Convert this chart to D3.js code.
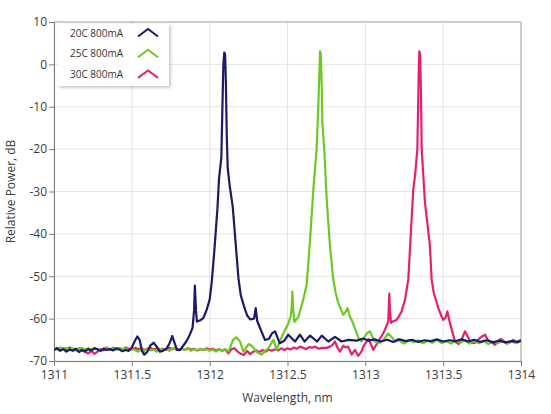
<!DOCTYPE html>
<html>
<head>
<meta charset="utf-8">
<script src="https://cdn.jsdelivr.net/npm/d3@7"></script>
<style>
  html, body { margin: 0; padding: 0; background: #fff; }
  svg { display: block; font-family: "Segoe UI", "Open Sans", "Noto Sans", sans-serif; }
</style>
</head>
<body>
<div id="chart"></div>
<script>
// ---------------- DATA ----------------
const seriesNames = ["20C 800mA", "25C 800mA", "30C 800mA"];
const xTicks = [1311, 1311.5, 1312, 1312.5, 1313, 1313.5, 1314];
const xTickLabels = ["1311", "1311.5", "1312", "1312.5", "1313", "1313.5", "1314"];
const yTicks = [10, 0, -10, -20, -30, -40, -50, -60, -70];
const yTickLabels = ["10", "0", "-10", "-20", "-30", "-40", "-50", "-60", "-70"];

const wl20 = [1311.00,1311.02,1311.04,1311.06,1311.08,1311.10,1311.12,1311.14,1311.16,1311.18,1311.20,1311.22,1311.24,1311.26,1311.28,1311.30,1311.32,1311.34,1311.36,1311.38,1311.40,1311.42,1311.44,1311.46,1311.48,1311.50,1311.52,1311.535,1311.55,1311.565,1311.58,1311.60,1311.62,1311.64,1311.66,1311.68,1311.70,1311.72,1311.74,1311.76,1311.775,1311.79,1311.81,1311.83,1311.85,1311.87,1311.89,1311.90,1311.905,1311.912,1311.918,1311.94,1311.96,1311.98,1312.00,1312.013,1312.03,1312.05,1312.06,1312.066,1312.075,1312.082,1312.088,1312.094,1312.099,1312.104,1312.110,1312.116,1312.13,1312.148,1312.16,1312.173,1312.185,1312.20,1312.22,1312.24,1312.26,1312.285,1312.296,1312.305,1312.33,1312.355,1312.38,1312.40,1312.42,1312.45,1312.48,1312.505,1312.548,1312.58,1312.61,1312.645,1312.69,1312.72,1312.762,1312.805,1312.848,1312.89,1312.945,1312.987,1313.02,1313.06,1313.10,1313.14,1313.18,1313.22,1313.26,1313.30,1313.34,1313.38,1313.42,1313.46,1313.50,1313.54,1313.58,1313.62,1313.66,1313.70,1313.74,1313.78,1313.82,1313.86,1313.90,1313.94,1313.98,1314.00];
const db20 = [-67.4,-67.0,-67.6,-67.2,-67.8,-67.3,-67.6,-67.1,-67.9,-67.4,-67.7,-67.2,-67.5,-67.0,-67.3,-67.6,-67.1,-67.4,-67.2,-67.5,-67.0,-67.3,-67.7,-67.4,-67.6,-66.8,-65.2,-64.2,-65.0,-67.6,-68.5,-67.8,-66.3,-65.7,-66.6,-67.8,-67.6,-67.2,-66.0,-64.1,-65.8,-67.4,-67.4,-66.4,-65.4,-64.0,-62.2,-58.0,-52.2,-58.0,-60.7,-60.4,-59.8,-58.0,-55.5,-51.5,-44,-34,-27,-25,-22,-10,0,2.8,2.4,-4,-17,-24.5,-29,-33.5,-39,-45,-50.5,-54.5,-57.0,-59.2,-60.2,-60.0,-57.5,-60.5,-62.8,-65.0,-64.8,-63.5,-63.0,-65.8,-65.2,-63.8,-65.4,-63.8,-65.4,-64.0,-65.4,-64.0,-65.4,-64.3,-65.4,-65.0,-65.2,-64.7,-65.2,-64.9,-65.4,-65.0,-65.5,-64.9,-65.3,-65.0,-65.5,-65.1,-65.3,-64.9,-65.4,-65.1,-65.3,-64.9,-65.4,-65.0,-65.5,-65.1,-65.6,-65.2,-65.6,-65.3,-65.5,-65.2];

const wl25 = [1311.00,1311.02,1311.04,1311.06,1311.08,1311.10,1311.12,1311.14,1311.16,1311.18,1311.20,1311.22,1311.24,1311.26,1311.28,1311.30,1311.32,1311.34,1311.36,1311.38,1311.40,1311.42,1311.44,1311.46,1311.48,1311.50,1311.52,1311.54,1311.56,1311.58,1311.60,1311.62,1311.64,1311.66,1311.68,1311.70,1311.72,1311.74,1311.76,1311.78,1311.80,1311.82,1311.84,1311.86,1311.88,1311.90,1311.92,1311.94,1311.96,1311.98,1312.00,1312.02,1312.04,1312.06,1312.08,1312.10,1312.12,1312.135,1312.15,1312.17,1312.195,1312.216,1312.235,1312.25,1312.27,1312.30,1312.334,1312.355,1312.376,1312.41,1312.43,1312.45,1312.473,1312.505,1312.52,1312.527,1312.531,1312.537,1312.544,1312.57,1312.60,1312.623,1312.645,1312.666,1312.687,1312.698,1312.704,1312.709,1312.714,1312.72,1312.724,1312.737,1312.752,1312.773,1312.794,1312.81,1312.826,1312.858,1312.870,1312.886,1312.90,1312.912,1312.935,1312.955,1312.976,1313.009,1313.03,1313.06,1313.09,1313.12,1313.147,1313.17,1313.19,1313.21,1313.23,1313.25,1313.28,1313.31,1313.34,1313.37,1313.40,1313.43,1313.46,1313.49,1313.52,1313.55,1313.58,1313.61,1313.64,1313.67,1313.70,1313.73,1313.76,1313.79,1313.82,1313.85,1313.88,1313.91,1313.94,1313.97,1314.00];
const db25 = [-67.0,-67.3,-66.8,-67.2,-66.9,-67.4,-67.0,-67.5,-67.1,-66.9,-67.3,-67.0,-67.4,-66.9,-67.2,-67.5,-67.0,-66.8,-67.3,-67.1,-67.4,-66.9,-67.2,-67.0,-67.5,-67.1,-67.4,-67.8,-67.2,-67.6,-67.0,-67.5,-67.3,-67.8,-67.1,-67.4,-67.2,-67.6,-67.0,-67.3,-67.5,-67.1,-67.4,-67.0,-67.6,-67.2,-67.5,-67.1,-67.4,-67.2,-67.6,-67.3,-67.8,-67.2,-67.5,-67.2,-67.8,-66.5,-65.0,-64.4,-65.4,-67.8,-66.8,-66.0,-66.4,-67.8,-68.5,-67.6,-67.0,-65.0,-67.4,-65.4,-63.5,-61.2,-59.5,-57.3,-53.6,-58,-60.8,-59.6,-55.7,-52.0,-41.4,-29.5,-20.0,-9.8,-3,3.1,2.5,-5,-13.8,-20.6,-32,-42.9,-50.8,-54,-56.3,-59.1,-58.6,-57.5,-59.5,-60.3,-62.5,-64.5,-65.4,-63.5,-63.0,-65.4,-65.8,-64.9,-63.5,-64.4,-65.2,-64.8,-65.5,-65.9,-65.0,-65.6,-65.1,-65.8,-65.2,-65.7,-65.0,-65.8,-65.3,-65.9,-65.2,-65.7,-65.1,-65.9,-65.3,-65.8,-65.2,-66.0,-65.4,-65.8,-65.3,-65.9,-65.4,-65.8,-65.3];

const wl30 = [1311.00,1311.02,1311.04,1311.06,1311.08,1311.10,1311.12,1311.14,1311.16,1311.18,1311.20,1311.22,1311.24,1311.26,1311.28,1311.30,1311.32,1311.34,1311.36,1311.38,1311.40,1311.42,1311.44,1311.46,1311.48,1311.50,1311.52,1311.54,1311.56,1311.58,1311.60,1311.62,1311.64,1311.66,1311.68,1311.70,1311.72,1311.74,1311.76,1311.78,1311.80,1311.82,1311.84,1311.86,1311.88,1311.90,1311.92,1311.94,1311.96,1311.98,1312.00,1312.02,1312.04,1312.06,1312.08,1312.10,1312.12,1312.14,1312.16,1312.18,1312.20,1312.22,1312.24,1312.26,1312.28,1312.30,1312.32,1312.34,1312.36,1312.38,1312.40,1312.42,1312.44,1312.46,1312.48,1312.50,1312.52,1312.54,1312.56,1312.58,1312.60,1312.62,1312.64,1312.66,1312.677,1312.70,1312.72,1312.75,1312.773,1312.79,1312.805,1312.82,1312.837,1312.858,1312.875,1312.89,1312.912,1312.933,1312.955,1312.975,1312.987,1313.005,1313.02,1313.04,1313.05,1313.07,1313.094,1313.11,1313.126,1313.147,1313.151,1313.154,1313.158,1313.165,1313.18,1313.20,1313.215,1313.233,1313.255,1313.266,1313.276,1313.29,1313.308,1313.32,1313.334,1313.34,1313.344,1313.347,1313.352,1313.357,1313.362,1313.383,1313.40,1313.415,1313.426,1313.44,1313.469,1313.49,1313.50,1313.515,1313.527,1313.54,1313.555,1313.576,1313.60,1313.62,1313.64,1313.655,1313.672,1313.69,1313.71,1313.73,1313.75,1313.769,1313.785,1313.80,1313.82,1313.833,1313.85,1313.87,1313.89,1313.91,1313.93,1313.95,1313.97,1314.00];
const db30 = [-67.2,-66.9,-67.4,-67.0,-67.3,-66.8,-67.2,-67.5,-67.0,-67.4,-67.9,-68.2,-67.6,-68.3,-67.8,-67.2,-67.5,-67.0,-67.3,-66.9,-67.2,-67.0,-67.4,-66.8,-67.1,-67.3,-66.9,-67.2,-67.0,-67.4,-67.1,-66.9,-67.3,-67.0,-67.4,-67.1,-67.3,-66.9,-67.2,-67.0,-67.3,-67.1,-67.4,-67.0,-67.3,-67.1,-67.5,-67.2,-67.4,-67.0,-67.3,-67.1,-67.5,-67.2,-67.6,-67.3,-68.2,-67.2,-67.0,-67.8,-68.3,-68.6,-67.6,-68.4,-67.8,-67.5,-67.9,-67.4,-67.8,-67.3,-67.6,-67.2,-67.5,-67.0,-67.4,-67.0,-67.3,-66.8,-67.1,-66.6,-66.9,-67.2,-66.7,-66.9,-66.6,-67.1,-66.9,-66.9,-66.6,-66.2,-65.4,-66.8,-67.8,-66.4,-66.8,-66.6,-68.5,-67.4,-68.8,-67.8,-66.6,-65.6,-64.8,-66.4,-67.4,-66.2,-64.7,-63.8,-62.6,-60.7,-57,-54.1,-58,-61,-60.6,-60.3,-59.5,-58.3,-55.5,-53,-50.8,-41.4,-29.5,-26,-20,-8,0,3.1,2.5,-6,-20,-32.6,-38,-42.9,-50.8,-54,-57.5,-59.5,-60.3,-59.8,-58.3,-60.5,-62.6,-65.4,-66.0,-64.8,-63.0,-64.0,-65.4,-65.8,-65.6,-64.8,-64.2,-63.8,-64.9,-65.4,-65.8,-66.2,-65.4,-64.8,-65.3,-65.9,-65.5,-65.0,-65.6,-65.0];

const colors = ["#1b1a6b", "#6cc924", "#e5206e"];

// ---------------- CHART ----------------
const W = 551, H = 414;
const margin = { left: 54, right: 30, top: 22, bottom: 53 };
const svg = d3.select("#chart").append("svg").attr("width", W).attr("height", H);

const x = d3.scaleLinear().domain([1311, 1314]).range([margin.left, W - margin.right]);
const y = d3.scaleLinear().domain([-70, 10]).range([H - margin.bottom, margin.top]);

// gridlines
svg.append("g").selectAll("line.vg").data(xTicks).join("line")
  .attr("x1", d => x(d)).attr("x2", d => x(d))
  .attr("y1", y(10)).attr("y2", y(-70))
  .attr("stroke", "#e4e4e4").attr("stroke-width", 1);
svg.append("g").selectAll("line.hg").data(yTicks).join("line")
  .attr("y1", d => y(d)).attr("y2", d => y(d))
  .attr("x1", x(1311)).attr("x2", x(1314))
  .attr("stroke", "#e4e4e4").attr("stroke-width", 1);

// frame top/right
svg.append("line").attr("x1", x(1311)).attr("x2", x(1314)).attr("y1", y(10)).attr("y2", y(10))
  .attr("stroke", "#a8a8a8");
svg.append("line").attr("x1", x(1314)).attr("x2", x(1314)).attr("y1", y(10)).attr("y2", y(-70))
  .attr("stroke", "#a8a8a8");

// axes
const xAxis = d3.axisBottom(x).tickValues(xTicks).tickFormat((d, i) => xTickLabels[i]).tickSizeOuter(0).tickSize(5).tickPadding(4);
const yAxis = d3.axisLeft(y).tickValues(yTicks).tickFormat((d, i) => yTickLabels[i]).tickSizeOuter(0).tickSize(5).tickPadding(2);

const gx = svg.append("g").attr("transform", `translate(0,${y(-70)})`).call(xAxis);
const gy = svg.append("g").attr("transform", `translate(${x(1311)},0)`).call(yAxis);
[gx, gy].forEach(g => {
  g.select(".domain").attr("stroke", "#7a7a7a");
  g.selectAll(".tick line").attr("stroke", "#7a7a7a");
  g.selectAll(".tick text").attr("fill", "#3a3a3a").style("font-size", "12px")
    .style("font-family", '"Segoe UI", "Open Sans", "Noto Sans", sans-serif');
});

// axis titles
svg.append("text").attr("x", (x(1311) + x(1314)) / 2).attr("y", 402)
  .attr("text-anchor", "middle").attr("fill", "#3a3a3a").style("font-size", "12px")
  .text("Wavelength, nm");
svg.append("text").attr("transform", `translate(15,${(y(10) + y(-70)) / 2}) rotate(-90)`)
  .attr("text-anchor", "middle").attr("fill", "#3a3a3a").style("font-size", "12px")
  .text("Relative Power, dB");

// lines
const clip = svg.append("clipPath").attr("id", "plotclip").append("rect")
  .attr("x", x(1311)).attr("y", y(10)).attr("width", x(1314) - x(1311)).attr("height", y(-70) - y(10));
const line = d3.line().x(d => x(d[0])).y(d => y(d[1])).curve(d3.curveLinear);
const series = [
  d3.zip(wl30, db30),
  d3.zip(wl25, db25),
  d3.zip(wl20, db20)
];
const seriesColors = [colors[2], colors[1], colors[0]];
svg.append("g").attr("clip-path", "url(#plotclip)").selectAll("path").data(series).join("path")
  .attr("d", line).attr("fill", "none")
  .attr("stroke", (d, i) => seriesColors[i]).attr("stroke-width", 2.2)
  .attr("stroke-linejoin", "round");

// legend
const defs = svg.append("defs");
const f = defs.append("filter").attr("id", "shadow").attr("x", "-10%").attr("y", "-10%").attr("width", "130%").attr("height", "130%");
f.append("feDropShadow").attr("dx", 1.5).attr("dy", 1.5).attr("stdDeviation", 1.5).attr("flood-color", "#000").attr("flood-opacity", 0.25);

const lg = svg.append("g").attr("transform", "translate(58,24)");
lg.append("rect").attr("width", 111).attr("height", 62).attr("fill", "#fff").attr("filter", "url(#shadow)");
seriesNames.forEach((name, i) => {
  const cy = 9 + i * 20.7;
  lg.append("text").attr("x", 12).attr("y", cy).attr("dy", "0.35em")
    .attr("fill", "#333").style("font-size", "10px").text(name);
  lg.append("path")
    .attr("d", `M${80},${cy + 3.5} L${90},${cy - 4} L${100},${cy + 3.5}`)
    .attr("fill", "none").attr("stroke", colors[i]).attr("stroke-width", 2);
});
</script>
</body>
</html>
